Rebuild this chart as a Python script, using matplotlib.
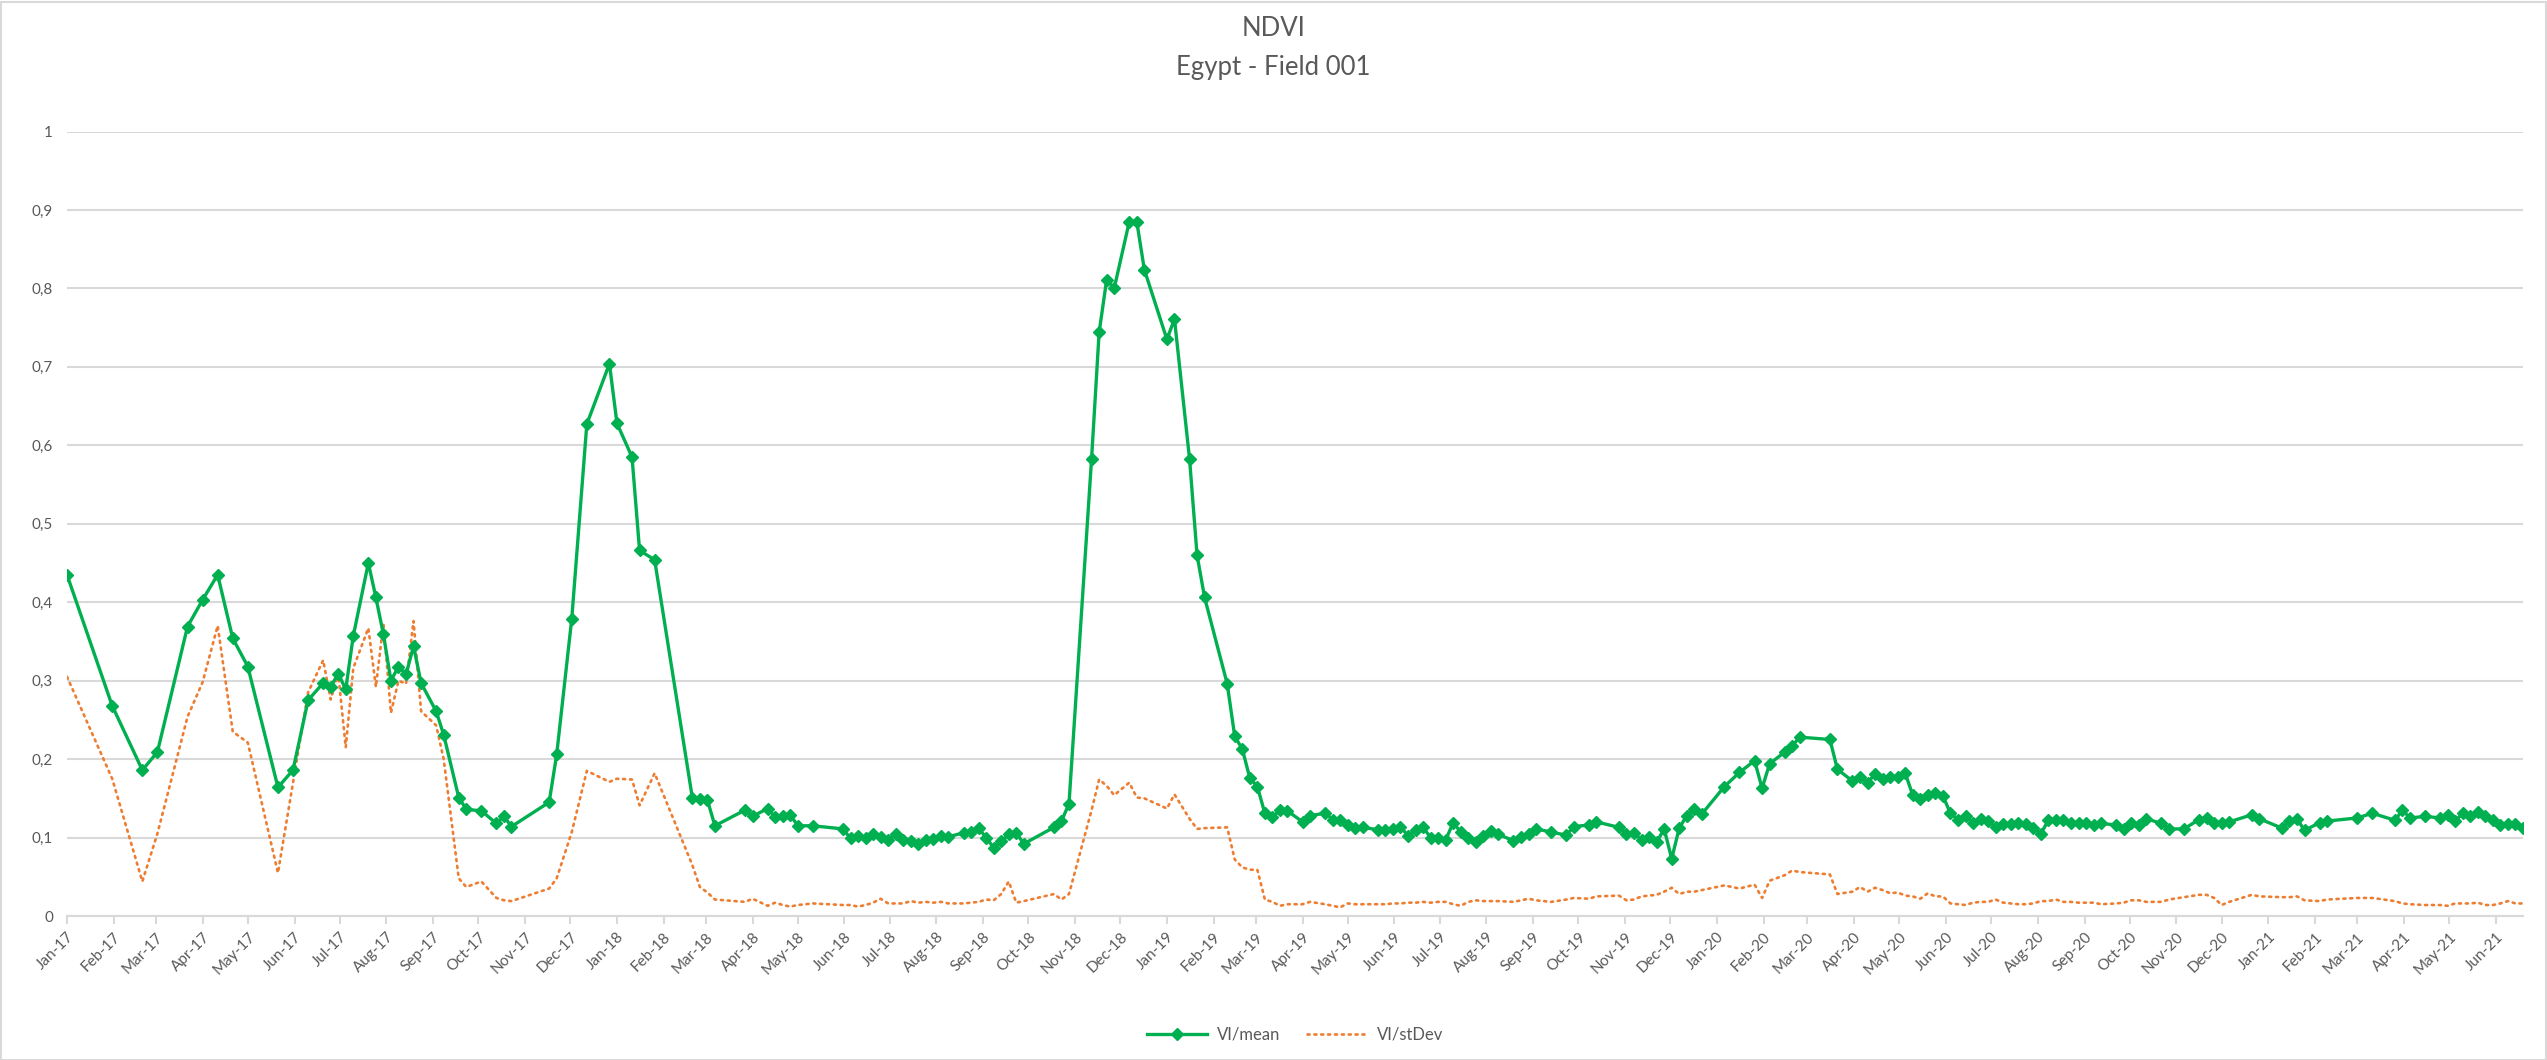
import pandas as pd
import matplotlib.pyplot as plt
from matplotlib.patches import Rectangle

# Fechas de adquisición y valores del índice
fechas = [
    "2017-01-01", "2017-01-31", "2017-02-20", "2017-03-02", "2017-03-22", "2017-04-01",
    "2017-04-11", "2017-04-21", "2017-05-01", "2017-05-21", "2017-05-31", "2017-06-10",
    "2017-06-20", "2017-06-25", "2017-06-30", "2017-07-05", "2017-07-10", "2017-07-20",
    "2017-07-25", "2017-07-30", "2017-08-04", "2017-08-09", "2017-08-14", "2017-08-19",
    "2017-08-24", "2017-09-03", "2017-09-08", "2017-09-18", "2017-09-23", "2017-10-03",
    "2017-10-13", "2017-10-18", "2017-10-23", "2017-11-17", "2017-11-22", "2017-12-02",
    "2017-12-12", "2017-12-27",
    "2018-01-01", "2018-01-11", "2018-01-16", "2018-01-26", "2018-02-20", "2018-02-25",
    "2018-03-02", "2018-03-07", "2018-03-27", "2018-04-01", "2018-04-11", "2018-04-16",
    "2018-04-21", "2018-04-26", "2018-05-01", "2018-05-11", "2018-05-31", "2018-06-05",
    "2018-06-10", "2018-06-15", "2018-06-20", "2018-06-25", "2018-06-30", "2018-07-05",
    "2018-07-10", "2018-07-15", "2018-07-20", "2018-07-25", "2018-07-30", "2018-08-04",
    "2018-08-09", "2018-08-19", "2018-08-24", "2018-08-29", "2018-09-03", "2018-09-08",
    "2018-09-13", "2018-09-18", "2018-09-23", "2018-09-28", "2018-10-18", "2018-10-23",
    "2018-10-28", "2018-11-12", "2018-11-17", "2018-11-22", "2018-11-27", "2018-12-07",
    "2018-12-12", "2018-12-17",
    "2019-01-01", "2019-01-06", "2019-01-16", "2019-01-21", "2019-01-26", "2019-02-10",
    "2019-02-15", "2019-02-20", "2019-02-25", "2019-03-02", "2019-03-07", "2019-03-12",
    "2019-03-17", "2019-03-22", "2019-04-01", "2019-04-06", "2019-04-16", "2019-04-21",
    "2019-04-26", "2019-05-01", "2019-05-06", "2019-05-11", "2019-05-21", "2019-05-26",
    "2019-05-31", "2019-06-05", "2019-06-10", "2019-06-15", "2019-06-20", "2019-06-25",
    "2019-06-30", "2019-07-05", "2019-07-10", "2019-07-15", "2019-07-20", "2019-07-25",
    "2019-07-30", "2019-08-04", "2019-08-09", "2019-08-19", "2019-08-24", "2019-08-29",
    "2019-09-03", "2019-09-13", "2019-09-23", "2019-09-28", "2019-10-08", "2019-10-13",
    "2019-10-28", "2019-11-02", "2019-11-07", "2019-11-12", "2019-11-17", "2019-11-22",
    "2019-11-27", "2019-12-02", "2019-12-07", "2019-12-12", "2019-12-17", "2019-12-22",
    "2020-01-06", "2020-01-16", "2020-01-26", "2020-01-31", "2020-02-05", "2020-02-15",
    "2020-02-20", "2020-02-25", "2020-03-16", "2020-03-21", "2020-03-31", "2020-04-05",
    "2020-04-10", "2020-04-15", "2020-04-20", "2020-04-25", "2020-04-30", "2020-05-05",
    "2020-05-10", "2020-05-15", "2020-05-20", "2020-05-25", "2020-05-30", "2020-06-04",
    "2020-06-09", "2020-06-14", "2020-06-19", "2020-06-24", "2020-06-29", "2020-07-04",
    "2020-07-09", "2020-07-14", "2020-07-19", "2020-07-24", "2020-07-29", "2020-08-03",
    "2020-08-08", "2020-08-13", "2020-08-18", "2020-08-23", "2020-08-28", "2020-09-02",
    "2020-09-07", "2020-09-12", "2020-09-22", "2020-09-27", "2020-10-02", "2020-10-07",
    "2020-10-12", "2020-10-22", "2020-10-27", "2020-11-06", "2020-11-16", "2020-11-21",
    "2020-11-26", "2020-12-01", "2020-12-06", "2020-12-21", "2020-12-26",
    "2021-01-10", "2021-01-15", "2021-01-20", "2021-01-25", "2021-02-04", "2021-02-09",
    "2021-03-01", "2021-03-11", "2021-03-26", "2021-03-31", "2021-04-05", "2021-04-15",
    "2021-04-25", "2021-04-30", "2021-05-05", "2021-05-10", "2021-05-15", "2021-05-20",
    "2021-05-25", "2021-05-30", "2021-06-04", "2021-06-09", "2021-06-14", "2021-06-19",
]

vi_mean = [
    0.435, 0.268, 0.186, 0.209, 0.369, 0.403, 0.435, 0.354, 0.318, 0.164, 0.186, 0.275,
    0.297, 0.292, 0.309, 0.289, 0.357, 0.450, 0.406, 0.359, 0.300, 0.318, 0.308, 0.344,
    0.297, 0.261, 0.231, 0.151, 0.136, 0.134, 0.118, 0.127, 0.114, 0.145, 0.206, 0.379,
    0.627, 0.704,
    0.628, 0.585, 0.466, 0.454, 0.151, 0.149, 0.148, 0.115, 0.135, 0.127, 0.137, 0.126,
    0.127, 0.129, 0.115, 0.115, 0.111, 0.099, 0.102, 0.100, 0.105, 0.101, 0.097, 0.104,
    0.097, 0.096, 0.092, 0.097, 0.098, 0.102, 0.101, 0.106, 0.107, 0.112, 0.100, 0.087,
    0.095, 0.104, 0.106, 0.092, 0.113, 0.121, 0.143, 0.583, 0.744, 0.811, 0.800, 0.885,
    0.885, 0.824,
    0.735, 0.761, 0.583, 0.460, 0.406, 0.296, 0.229, 0.213, 0.176, 0.165, 0.131, 0.126,
    0.135, 0.134, 0.120, 0.128, 0.131, 0.123, 0.123, 0.116, 0.112, 0.113, 0.110, 0.109,
    0.111, 0.114, 0.102, 0.109, 0.113, 0.100, 0.100, 0.097, 0.119, 0.107, 0.100, 0.094,
    0.102, 0.108, 0.104, 0.096, 0.101, 0.104, 0.111, 0.107, 0.103, 0.114, 0.116, 0.120,
    0.113, 0.105, 0.106, 0.097, 0.101, 0.094, 0.111, 0.073, 0.112, 0.128, 0.136, 0.130,
    0.165, 0.183, 0.198, 0.163, 0.194, 0.209, 0.217, 0.228, 0.225, 0.187, 0.172, 0.177,
    0.170, 0.181, 0.175, 0.177, 0.177, 0.182, 0.154, 0.149, 0.154, 0.157, 0.153, 0.131,
    0.123, 0.127, 0.119, 0.124, 0.121, 0.113, 0.117, 0.117, 0.119, 0.117, 0.112, 0.105,
    0.122, 0.123, 0.122, 0.119, 0.118, 0.118, 0.116, 0.118, 0.116, 0.111, 0.118, 0.116,
    0.124, 0.118, 0.111, 0.111, 0.123, 0.125, 0.118, 0.118, 0.120, 0.129, 0.124,
    0.112, 0.121, 0.124, 0.109, 0.119, 0.121, 0.125, 0.131, 0.122, 0.135, 0.125, 0.127,
    0.125, 0.129, 0.121, 0.131, 0.128, 0.132, 0.127, 0.123, 0.116, 0.117, 0.117, 0.112,
]

vi_stdev = [
    0.305, 0.175, 0.044, 0.105, 0.254, 0.298, 0.370, 0.235, 0.221, 0.055, 0.170, 0.285,
    0.326, 0.276, 0.309, 0.215, 0.316, 0.367, 0.292, 0.373, 0.259, 0.300, 0.296, 0.376,
    0.261, 0.243, 0.200, 0.048, 0.037, 0.044, 0.023, 0.020, 0.019, 0.035, 0.048, 0.107,
    0.185, 0.171,
    0.175, 0.174, 0.141, 0.182, 0.065, 0.037, 0.030, 0.021, 0.018, 0.022, 0.013, 0.017,
    0.014, 0.012, 0.014, 0.016, 0.014, 0.014, 0.012, 0.014, 0.017, 0.022, 0.016, 0.016,
    0.016, 0.019, 0.017, 0.018, 0.017, 0.018, 0.016, 0.016, 0.017, 0.018, 0.021, 0.020,
    0.028, 0.044, 0.017, 0.019, 0.028, 0.021, 0.028, 0.135, 0.174, 0.166, 0.154, 0.170,
    0.151, 0.150,
    0.137, 0.155, 0.124, 0.111, 0.112, 0.113, 0.072, 0.062, 0.059, 0.059, 0.021, 0.018,
    0.013, 0.015, 0.015, 0.018, 0.015, 0.013, 0.011, 0.016, 0.015, 0.015, 0.015, 0.015,
    0.016, 0.016, 0.017, 0.017, 0.018, 0.017, 0.018, 0.018, 0.015, 0.013, 0.018, 0.020,
    0.019, 0.019, 0.019, 0.018, 0.020, 0.022, 0.020, 0.018, 0.021, 0.023, 0.022, 0.025,
    0.026, 0.020, 0.021, 0.025, 0.026, 0.027, 0.031, 0.036, 0.028, 0.031, 0.031, 0.033,
    0.039, 0.035, 0.040, 0.023, 0.045, 0.052, 0.058, 0.056, 0.053, 0.028, 0.031, 0.037,
    0.031, 0.036, 0.033, 0.029, 0.030, 0.026, 0.025, 0.022, 0.029, 0.025, 0.025, 0.016,
    0.015, 0.014, 0.017, 0.018, 0.018, 0.021, 0.017, 0.016, 0.015, 0.015, 0.016, 0.019,
    0.019, 0.021, 0.018, 0.018, 0.017, 0.017, 0.017, 0.015, 0.016, 0.017, 0.020, 0.020,
    0.018, 0.018, 0.021, 0.024, 0.027, 0.027, 0.023, 0.014, 0.018, 0.027, 0.025,
    0.024, 0.024, 0.025, 0.020, 0.019, 0.021, 0.023, 0.023, 0.019, 0.016, 0.015, 0.014,
    0.014, 0.013, 0.016, 0.016, 0.016, 0.017, 0.014, 0.014, 0.016, 0.019, 0.016, 0.016,
]

df = pd.DataFrame({"mean": vi_mean, "stdev": vi_stdev}, index=pd.to_datetime(fechas))

verde = "#00B050"
naranja = "#ED7D31"
gris_texto = "#595959"
gris_rejilla = "#D9D9D9"
fuente = "Lato"

W, H = 2547, 1060
fig = plt.figure(figsize=(W / 100, H / 100), dpi=100)
ax = fig.add_axes([67 / W, 1 - 916 / H, (2523 - 67) / W, (916 - 131.5) / H])

# Series
ax.plot(df.index, df["mean"], color=verde, linewidth=2.4, marker="D",
        markersize=6.5, label="VI/mean", zorder=3)
ax.plot(df.index, df["stdev"], color=naranja, linewidth=1.9,
        linestyle=(0, (0.8, 1.8)), dash_capstyle="round", label="VI/stDev", zorder=2)

# Ejes
ax.set_xlim(df.index[0], df.index[-1])
ax.set_ylim(0, 1)
ax.set_yticks([i / 10 for i in range(11)])
ax.set_yticklabels(["0"] + [f"{i / 10:.1f}".replace(".", ",") for i in range(1, 10)] + ["1"],
                   fontsize=11, color=gris_texto, family=fuente)
ax.yaxis.grid(True, color=gris_rejilla, linewidth=1.5)
ax.set_axisbelow(True)
ax.tick_params(axis="y", length=0, pad=10)

meses = pd.date_range("2017-01-01", "2021-06-01", freq="MS")
ax.set_xticks(meses)
ax.set_xticklabels([m.strftime("%b-%y") for m in meses], rotation=45, ha="right",
                   rotation_mode="anchor", fontsize=11, color=gris_texto, family=fuente)
ax.tick_params(axis="x", length=6, width=1.5, color=gris_rejilla, pad=4)

for side in ["top", "right", "left"]:
    ax.spines[side].set_visible(False)
ax.spines["bottom"].set_color(gris_rejilla)
ax.spines["bottom"].set_linewidth(1.5)

# Títulos
fig.text(0.5, 1 - 28 / H, "NDVI", ha="center", va="center",
         fontsize=18.5, color=gris_texto, family=fuente)
fig.text(0.5, 1 - 68 / H, "Egypt - Field 001", ha="center", va="center",
         fontsize=18.5, color=gris_texto, family=fuente)

# Leyenda
leg = fig.legend(loc="center", bbox_to_anchor=(1295 / W, 1 - 1035 / H), ncol=2,
                 frameon=False, handlelength=3.6, handletextpad=0.6, columnspacing=1.6,
                 prop={"family": fuente, "size": 12})
for t in leg.get_texts():
    t.set_color(gris_texto)

# Borde del área del gráfico
fig.patches.append(Rectangle((0.5 / W, 0.5 / H), 1 - 2 / W, 1 - 2 / H,
                             transform=fig.transFigure, fill=False,
                             edgecolor=gris_rejilla, linewidth=1.5))

fig.savefig("out.png", dpi=100)
plt.close(fig)
